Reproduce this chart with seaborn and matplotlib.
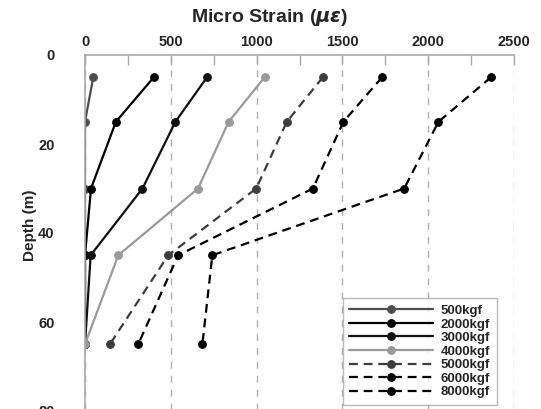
import matplotlib
matplotlib.use("Agg")
import matplotlib.pyplot as plt
from matplotlib.ticker import MultipleLocator
import seaborn as sns
import pandas as pd

# Measurement depths (m)
depths = [5, 15, 30, 45, 65]

# Micro strain per load case
loads = ["500kgf", "2000kgf", "3000kgf", "4000kgf", "5000kgf", "6000kgf", "8000kgf"]
strain_500 = [48, 0, 0, 0, 0]
strain_2000 = [401, 180, 35, 0, 0]
strain_3000 = [711, 527, 335, 33, 0]
strain_4000 = [1047, 837, 659, 194, 0]
strain_5000 = [1386, 1176, 998, 485, 145]
strain_6000 = [1731, 1506, 1328, 543, 310]
strain_8000 = [2366, 2060, 1860, 742, 684]
strains = [strain_500, strain_2000, strain_3000, strain_4000,
           strain_5000, strain_6000, strain_8000]

colors = ["#4d4d4d", "#000000", "#111111", "#9a9a9a", "#3d3d3d", "#000000", "#000000"]
dashed = [False, False, False, False, True, True, True]

df = pd.DataFrame({
    "load": [ld for ld in loads for _ in depths],
    "depth": depths * len(loads),
    "strain": [v for s in strains for v in s],
})

sns.set_style("white")
plt.rcParams["font.family"] = ["Liberation Sans", "DejaVu Sans"]
plt.rcParams["font.weight"] = "bold"

fig = plt.figure(figsize=(5.41, 4.09), dpi=100)
ax = fig.add_axes([85 / 541, -2 / 409, 429 / 541, 356 / 409])

for ld, col, dsh in zip(loads, colors, dashed):
    sub = df[df["load"] == ld]
    ls = (0, (4, 2.6)) if dsh else "-"
    sns.lineplot(data=sub, x="strain", y="depth", orient="y", sort=False,
                 color=col, linestyle=ls, linewidth=1.6, marker="o",
                 markersize=5.5, markeredgecolor=col, markeredgewidth=0.8,
                 label=ld, ax=ax)

ax.set_xlim(0, 2500)
ax.set_ylim(80, 0)
ax.set_xlabel("")
ax.set_ylabel("")

ax.xaxis.tick_top()
ax.xaxis.set_major_locator(MultipleLocator(500))
ax.xaxis.set_minor_locator(MultipleLocator(250))
ax.yaxis.set_major_locator(MultipleLocator(20))
ax.yaxis.set_minor_locator(MultipleLocator(10))

ax.tick_params(axis="x", which="major", direction="in", length=7, width=1,
               color="#aaaaaa", pad=4, labelsize=10.5)
ax.tick_params(axis="x", which="minor", direction="in", length=7, width=1,
               color="#aaaaaa")
ax.tick_params(axis="y", which="major", direction="out", length=17, width=1,
               color="#aaaaaa", pad=5, labelsize=10.5)
ax.tick_params(axis="y", which="minor", direction="out", length=9, width=1,
               color="#aaaaaa")
for lab in ax.get_xticklabels() + ax.get_yticklabels():
    lab.set_fontweight("bold")

ax.grid(axis="x", which="major", color="#b0b0b0", linestyle=(0, (5, 5)), linewidth=1)
ax.grid(axis="y", visible=False)

for side in ["right", "bottom"]:
    ax.spines[side].set_visible(False)
for side in ["left", "top"]:
    ax.spines[side].set_color("#aaaaaa")
    ax.spines[side].set_linewidth(1.2)

fig.text(270 / 541, 1 - 18 / 409, r"Micro Strain ($\mu\varepsilon$)",
         ha="center", va="center", fontsize=14, fontweight="bold")
fig.text(30 / 541, 1 - 225 / 409, "Depth (m)", rotation=90,
         ha="center", va="center", fontsize=11, fontweight="bold")

handles, labels = ax.get_legend_handles_labels()
leg = ax.legend(handles, labels, loc="upper left", bbox_to_anchor=(0.601, 0.317),
                borderaxespad=0, fancybox=False, frameon=True, handlelength=6.3,
                handletextpad=0.6, labelspacing=0.1, borderpad=0.5,
                prop={"size": 9.5, "weight": "bold"})
leg.get_frame().set_edgecolor("#aaaaaa")
leg.get_frame().set_linewidth(1)

fig.savefig("out.png", dpi=100)
